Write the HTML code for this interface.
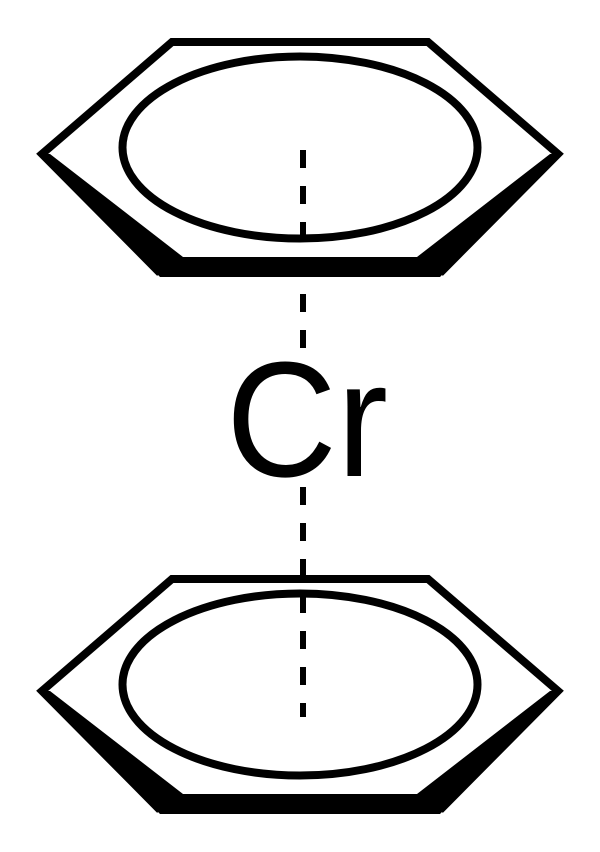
<!DOCTYPE html>
<html><head><meta charset="utf-8"><style>html,body{margin:0;padding:0;background:#fff}svg{display:block}</style></head>
<body>
<svg width="600" height="852" viewBox="0 0 600 852" xmlns="http://www.w3.org/2000/svg">
<defs>
<g id="ring">
<polyline points="160,273 42,154 172,42 428,42 558,154 440,273" fill="none" stroke="#000" stroke-width="8" stroke-linejoin="miter"/>
<polygon points="39,154 50,154 183,257 417,257 550,154 561,154 440,277 160,277" fill="#000"/>
<ellipse cx="300" cy="147.5" rx="177.5" ry="91" fill="none" stroke="#000" stroke-width="8"/>
</g>
</defs>
<use href="#ring"/>
<use href="#ring" transform="translate(0,537)"/>
<line x1="303" y1="150" x2="303" y2="348" stroke="#000" stroke-width="6" stroke-dasharray="18 18"/>
<line x1="303" y1="487" x2="303" y2="717" stroke="#000" stroke-width="6" stroke-dasharray="18 18"/>
<text x="307" y="476" font-family="Liberation Sans, sans-serif" font-size="164" text-anchor="middle" textLength="162" lengthAdjust="spacingAndGlyphs">Cr</text>
</svg>
</body></html>
